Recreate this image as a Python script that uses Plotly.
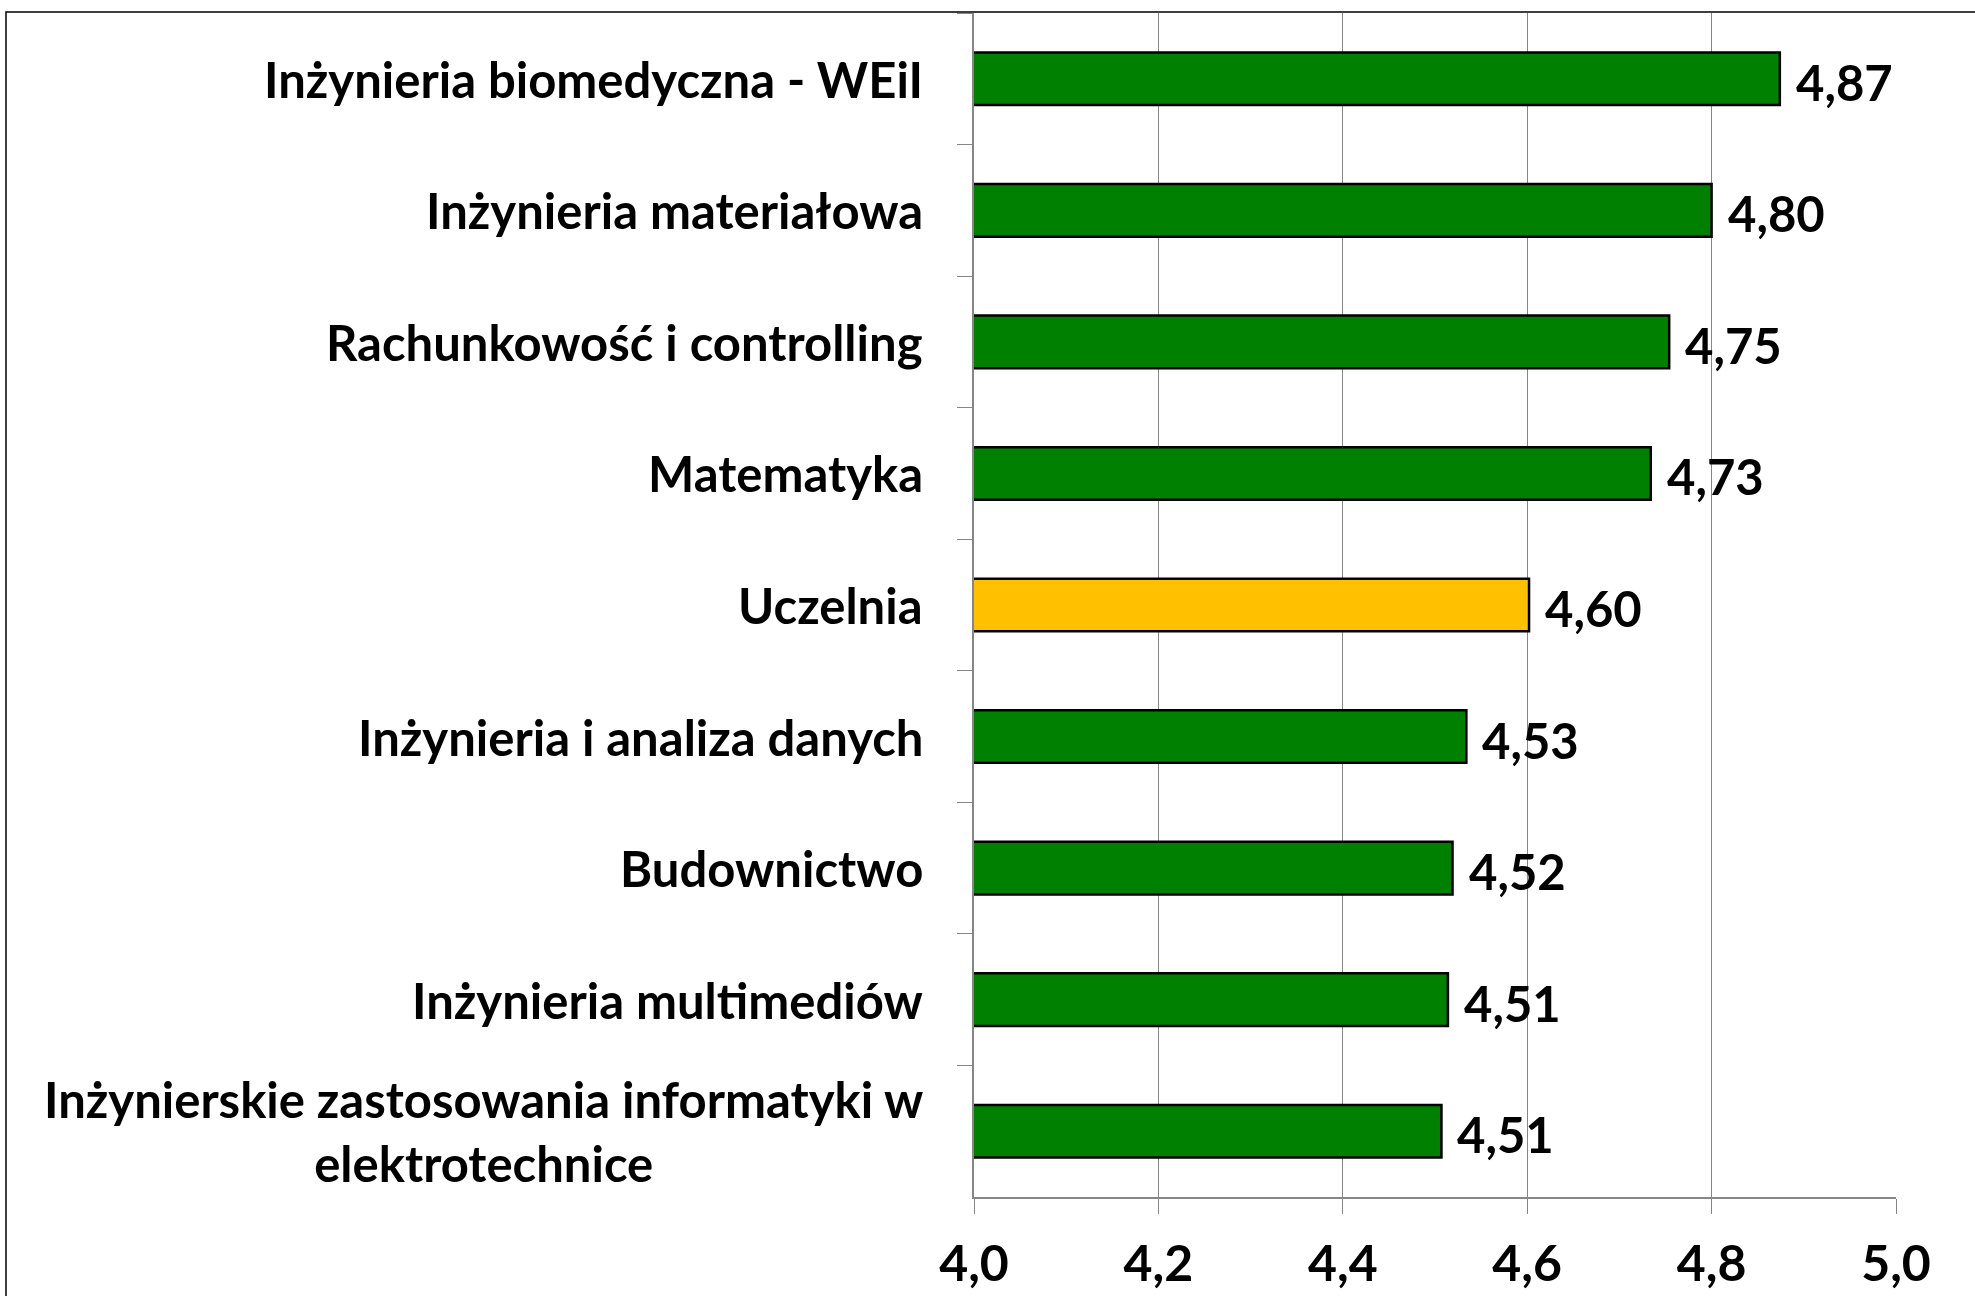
import plotly.graph_objects as go

categories = [
    "Inżynieria biomedyczna - WEiI",
    "Inżynieria materiałowa",
    "Rachunkowość i controlling",
    "Matematyka",
    "Uczelnia",
    "Inżynieria i analiza danych",
    "Budownictwo",
    "Inżynieria multimediów",
    "Inżynierskie zastosowania informatyki w<br>elektrotechnice",
]
values = [4.874, 4.800, 4.754, 4.734, 4.602, 4.534, 4.519, 4.514, 4.507]
highlight = "Uczelnia"
x_ticks = [4.0, 4.2, 4.4, 4.6, 4.8, 5.0]

GREEN = "#008000"
GOLD = "#FFC000"
GRID = "#868686"
FONT = "Lato"

colors = [GOLD if c == highlight else GREEN for c in categories]

W, H = 1975, 1296
ML, MR, MT, MB = 974, 79, 13, 99
PW, PH = W - ML - MR, H - MT - MB

fig = go.Figure()
fig.add_trace(go.Bar(
    x=values, y=categories, orientation="h",
    width=0.4,
    marker=dict(color=colors, line=dict(color="black", width=2.5)),
    hoverinfo="skip",
))

annotations = []
for c, v in zip(categories, values):
    annotations.append(dict(
        x=v, y=c, xref="x", yref="y", text=f"{v:.2f}".replace(".", ","),
        showarrow=False, xanchor="left", yanchor="middle", xshift=14, yshift=-3,
        font=dict(family=FONT, size=49, color="black", weight=700),
    ))
    annotations.append(dict(
        x=-49 / PW, y=c, xref="paper", yref="y", text=c,
        showarrow=False, xanchor="right", yanchor="middle", align="center",
        font=dict(family=FONT, size=49, color="black", weight=700),
    ))

# outer chart-area frame (top and left edges visible)
fx = (6 - ML) / PW
fy = 1 + (MT - 12) / PH
frame = dict(type="path", xref="paper", yref="paper",
             path=f"M {fx},-0.2 L {fx},{fy} L 1.2,{fy}",
             line=dict(color="black", width=1.5))

fig.update_layout(
    template="none",
    width=W, height=H,
    margin=dict(l=ML, r=MR, t=MT, b=MB, autoexpand=False),
    paper_bgcolor="white", plot_bgcolor="white",
    separators=", ",
    showlegend=False,
    bargap=0.6,
    annotations=annotations,
    shapes=[frame],
    font=dict(family=FONT, color="black"),
)
fig.update_xaxes(
    automargin=False,
    range=[4.0, 5.0], tickvals=x_ticks, tickformat=".1f",
    showgrid=True, gridcolor=GRID, gridwidth=1.3,
    showline=True, linecolor=GRID, linewidth=2,
    ticks="outside", ticklen=15, tickcolor=GRID, tickwidth=1.3,
    ticklabelstandoff=7,
    tickfont=dict(family=FONT, size=50, color="black", weight=700),
    zeroline=False,
)
fig.update_yaxes(
    automargin=False,
    type="category", categoryorder="array", categoryarray=categories,
    autorange="reversed",
    showgrid=False, showline=True, linecolor=GRID, linewidth=2,
    ticks="outside", tickson="boundaries", ticklen=15, tickcolor=GRID, tickwidth=1.3,
    showticklabels=False, zeroline=False,
)

fig.write_html(
    "out.html",
    config={"displayModeBar": False},
    post_script="document.body.style.margin='0';document.body.style.overflow='hidden';",
)
